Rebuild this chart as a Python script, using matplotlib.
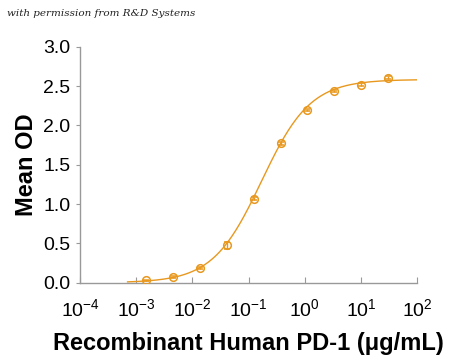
import numpy as np
import matplotlib
matplotlib.use("Agg")
import matplotlib.pyplot as plt

conc = [0.00152, 0.00457, 0.0137, 0.0412, 0.123, 0.370, 1.11, 3.33, 10.0, 30.0]
od = [0.03, 0.07, 0.19, 0.475, 1.07, 1.775, 2.195, 2.437, 2.52, 2.605]
err = [0.01, 0.01, 0.015, 0.04, 0.02, 0.02, 0.015, 0.015, 0.015, 0.02]

# 4-parameter logistic fit parameters
bottom, top, ec50, hill = 0.0, 2.585, 0.17, 1.0
fit_range = (7e-4, 100)

color = "#E8981E"
plt.rcParams['font.family'] = ['Liberation Sans', 'DejaVu Sans']
plt.rcParams['mathtext.fontset'] = 'custom'
plt.rcParams['mathtext.rm'] = 'Liberation Sans'
plt.rcParams['mathtext.it'] = 'Liberation Sans:italic'
plt.rcParams['mathtext.bf'] = 'Liberation Sans:bold'
plt.rcParams['mathtext.default'] = 'rm'

fig = plt.figure(figsize=(4.5, 3.59), dpi=100)
ax = fig.add_axes([0.178, 0.2125, 0.749, 0.657])

xf = np.logspace(np.log10(fit_range[0]), np.log10(fit_range[1]), 300)
yf = bottom + (top - bottom) / (1 + (ec50 / xf) ** hill)
ax.plot(xf, yf, color=color, lw=1.0, zorder=2)
ax.errorbar(conc, od, yerr=err, fmt='o', mfc='none', mec=color, ecolor=color,
            ms=5.5, mew=1.1, capsize=2.5, elinewidth=1, zorder=3)

ax.set_xscale('log')
ax.set_xlim(1e-4, 1e2)
ax.set_ylim(0, 3.0)
ax.set_yticks([0, 0.5, 1.0, 1.5, 2.0, 2.5, 3.0])
ax.set_yticklabels(['0.0', '0.5', '1.0', '1.5', '2.0', '2.5', '3.0'])
ax.set_xticks([1e-4, 1e-3, 1e-2, 1e-1, 1e0, 1e1, 1e2])
ax.set_xticklabels([r'10$^{-4}$', r'10$^{-3}$', r'10$^{-2}$', r'10$^{-1}$',
                    r'10$^{0}$', r'10$^{1}$', r'10$^{2}$'])

for s in ['top', 'right']:
    ax.spines[s].set_visible(False)
for s in ['left', 'bottom']:
    ax.spines[s].set_color('#999999')
    ax.spines[s].set_linewidth(1.0)

ax.tick_params(axis='y', direction='out', length=3, color='#999999', labelsize=14, pad=4)
ax.tick_params(axis='x', which='major', direction='in', length=4, color='#999999', labelsize=14, pad=11)
ax.tick_params(axis='x', which='minor', direction='in', length=2.5, color='#999999')

ax.set_ylabel('Mean OD', fontsize=17, fontweight='bold', labelpad=4)
ax.set_xlabel('Recombinant Human PD-1 (\u03bcg/mL)', fontsize=17, fontweight='bold', labelpad=9)

fig.text(0.015, 0.955, 'with permission from R&D Systems', fontsize=7.5,
         family='DejaVu Serif', style='italic', color='#222222')

fig.savefig('out.png', dpi=100)
